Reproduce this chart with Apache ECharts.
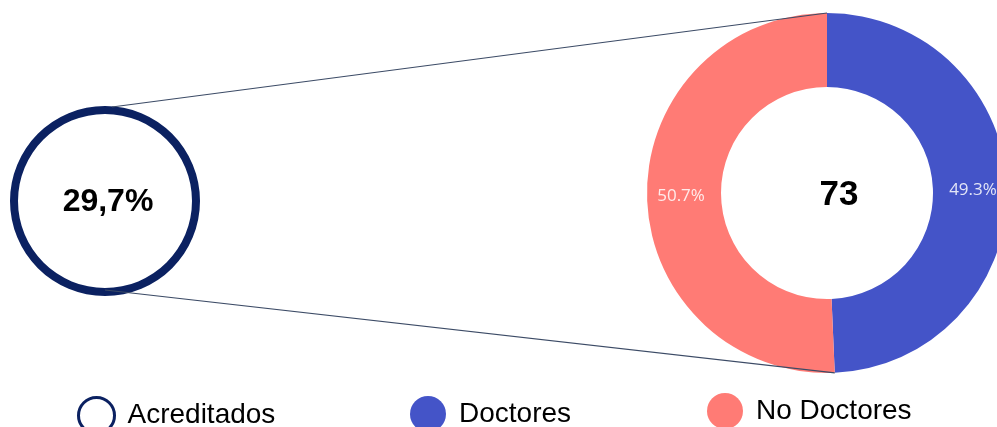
<!DOCTYPE html>
<html>
<head>
<meta charset="utf-8">
<script src="https://cdn.jsdelivr.net/npm/echarts@6/dist/echarts.min.js"></script>
<style>
  html, body { margin: 0; padding: 0; background: #fff; }
  #chart { width: 997px; height: 427px; }
</style>
</head>
<body>
<div id="chart"></div>
<script>
// datos
const legendNames = ['Acreditados', 'Doctores', 'No Doctores'];
const acreditadosLabel = ['29,7%'];
const donutNames = ['Doctores', 'No Doctores'];
const donutValues = [36, 37];

// colores
const navy = '#0b2161';
const blue = '#4454c8';
const salmon = '#ff7b75';

// geometria de los dos circulos
const ring = { cx: 105, cy: 201, r0: 87, r1: 95 };
const donut = { cx: 827, cy: 193, r0: 106, r1: 180 };

const total = donutValues.reduce((a, b) => a + b, 0);
const font = 'Liberation Sans, Arial, sans-serif';

const myChart = echarts.init(document.getElementById('chart'));

// lineas que unen el circulo con la dona
const blueEnd = (donutValues[0] / total) * 2 * Math.PI;
const lines = [
  [ring.cx + 7, ring.cy - ring.r1 + 1, donut.cx, donut.cy - donut.r1],
  [ring.cx, ring.cy + ring.r1 - 6,
    donut.cx + donut.r1 * Math.sin(blueEnd), donut.cy - donut.r1 * Math.cos(blueEnd)]
];

const legendBase = {
  orient: 'horizontal',
  padding: 0,
  itemWidth: 36,
  itemHeight: 36,
  selectedMode: false,
  icon: 'circle',
  textStyle: { fontSize: 28, color: '#000', fontFamily: font, padding: [0, 0, 0, 8] }
};

let option = {
  animation: false,
  title: {
    text: String(total),
    left: 834,
    top: 190,
    textAlign: 'center',
    textVerticalAlign: 'middle',
    textStyle: { fontSize: 35, fontWeight: 'bold', color: '#000', fontFamily: font }
  },
  legend: [
    Object.assign({}, legendBase, {
      left: 77, top: 396,
      data: [{ name: legendNames[0], itemStyle: { color: '#fff', borderColor: navy, borderWidth: 3 } }]
    }),
    Object.assign({}, legendBase, {
      left: 410, top: 396,
      data: [{ name: legendNames[1] }]
    }),
    Object.assign({}, legendBase, {
      left: 707, top: 393,
      data: [{ name: legendNames[2] }]
    })
  ],
  graphic: lines.map(l => ({
    type: 'line',
    z: 10,
    shape: { x1: l[0], y1: l[1], x2: l[2], y2: l[3] },
    style: { stroke: '#3c4b66', lineWidth: 1.2 }
  })),
  series: [
    {
      name: 'acreditados',
      type: 'pie',
      center: [ring.cx, ring.cy],
      radius: [ring.r0, ring.r1],
      silent: true,
      label: {
        show: true,
        position: 'center',
        formatter: acreditadosLabel[0],
        fontSize: 32,
        fontWeight: 'bold',
        color: '#000',
        fontFamily: font,
        offset: [3, 1]
      },
      labelLine: { show: false },
      emphasis: { disabled: true },
      itemStyle: { color: navy },
      data: [{ name: legendNames[0], value: 1 }]
    },
    {
      name: 'doctores',
      type: 'pie',
      center: [donut.cx, donut.cy],
      radius: [donut.r0, donut.r1],
      startAngle: 90,
      clockwise: true,
      silent: true,
      percentPrecision: 1,
      label: {
        show: true,
        position: 'inside',
        formatter: '{d}%',
        fontSize: 17,
        color: 'rgba(255,255,255,0.85)',
        fontFamily: 'Open Sans, sans-serif'
      },
      emphasis: { disabled: true },
      data: donutNames.map((n, i) => ({
        name: n,
        value: donutValues[i],
        itemStyle: { color: i === 0 ? blue : salmon }
      }))
    }
  ]
};

option && myChart.setOption(option);
</script>
</body>
</html>
